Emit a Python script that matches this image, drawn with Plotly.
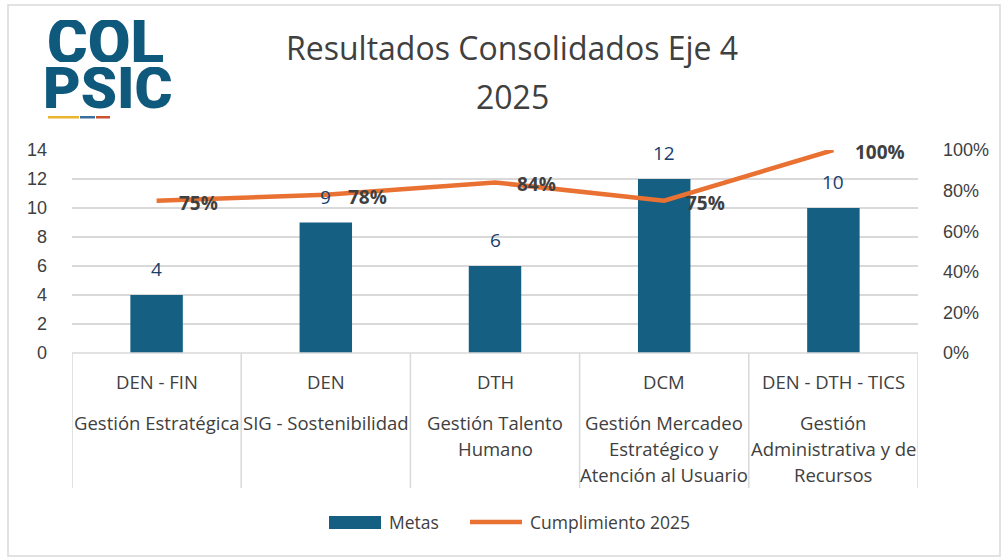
import plotly.graph_objects as go

# ---------------- data ----------------
areas = ["DEN - FIN", "DEN", "DTH", "DCM", "DEN - DTH - TICS"]
procesos = ["Gestión Estratégica", "SIG - Sostenibilidad", "Gestión Talento<br>Humano",
            "Gestión Mercadeo<br>Estratégico y<br>Atención al Usuario",
            "Gestión<br>Administrativa y de<br>Recursos"]
metas = [4, 9, 6, 12, 10]
cumplimiento = [0.75, 0.78, 0.84, 0.75, 1.00]
left_ticks = [0, 2, 4, 6, 8, 10, 12, 14]
right_ticks = [0, 0.2, 0.4, 0.6, 0.8, 1.0]
title_lines = ["Resultados Consolidados Eje 4", "2025"]
series_names = ["Metas", "Cumplimiento 2025"]

# ---------------- layout geometry ----------------
W, H = 1002, 557
L, R, T, B = 72, 918, 150, 353


def px_x(px):
    return (px - L) / (R - L)


def px_y(py):
    return (B - py) / (B - T)


BAR = "#156082"
LINE = "#E97132"
TXT = "#404040"
GRID = "#D9D9D9"
FONT = "Open Sans"
CAT_SIZE = 18.5

cats = list(range(len(areas)))

fig = go.Figure()
fig.add_trace(go.Bar(x=cats, y=metas, name=series_names[0], marker=dict(color=BAR, line=dict(width=0)),
                     width=0.31, yaxis="y", showlegend=False))
fig.add_trace(go.Scatter(x=cats, y=cumplimiento, name=series_names[1], mode="lines",
                         line=dict(color=LINE, width=4.5), yaxis="y2", showlegend=False))

ann = []
# bar value labels
for c, v in zip(cats, metas):
    ann.append(dict(x=c, y=v, xref="x", yref="y", text=str(v), showarrow=False, xanchor="center",
                    yanchor="bottom", yshift=11, font=dict(family=FONT, size=19, color="#17406D")))
# line percentage labels
for c, v in zip(cats, cumplimiento):
    ann.append(dict(x=c, y=v, xref="x", yref="y2", text=f"{round(v*100)}%", showarrow=False,
                    xanchor="left", xshift=20, yshift=-2,
                    font=dict(family=FONT, size=19, color=TXT, weight="bold")))
# category labels (two levels)
for c, a, p in zip(cats, areas, procesos):
    ann.append(dict(x=c, y=px_y(381), xref="x", yref="paper", text=a, showarrow=False,
                    xanchor="center", yanchor="middle",
                    font=dict(family=FONT, size=CAT_SIZE, color=TXT)))
    for k, line in enumerate(p.split("<br>")):
        ann.append(dict(x=c, y=px_y(422 + 26 * k), xref="x", yref="paper", text=line,
                        showarrow=False, xanchor="center", yanchor="middle",
                        font=dict(family=FONT, size=CAT_SIZE, color=TXT)))
# title
for txt, py in zip(title_lines, [48, 96]):
    ann.append(dict(x=px_x(512), y=px_y(py), xref="paper", yref="paper", text=txt,
                    showarrow=False, xanchor="center", yanchor="middle",
                    font=dict(family=FONT, size=32, color=TXT)))
# logo text
LOGO = "#0F5A7C"
for txt, cx, cy, sz in [("COL", 105, 41, 62), ("PSIC", 108, 88, 58)]:
    ann.append(dict(x=px_x(cx), y=px_y(cy), xref="paper", yref="paper", text=txt,
                    showarrow=False, xanchor="center", yanchor="middle", height=42, valign="middle",
                    font=dict(family="Roboto", size=sz, color=LOGO, weight=900)))
# legend text
ann.append(dict(x=px_x(387), y=px_y(522), xref="paper", yref="paper", text=series_names[0],
                showarrow=False, xanchor="left", yanchor="middle",
                font=dict(family=FONT, size=17.5, color=TXT)))
ann.append(dict(x=px_x(528), y=px_y(522), xref="paper", yref="paper", text=series_names[1],
                showarrow=False, xanchor="left", yanchor="middle",
                font=dict(family=FONT, size=17.5, color=TXT)))

shapes = []
# category box lines
shapes.append(dict(type="line", xref="paper", yref="paper", x0=0, x1=1, y0=0, y1=0,
                   line=dict(color=GRID, width=1.5)))
for i in range(len(areas) + 1):
    shapes.append(dict(type="line", xref="x", yref="paper", x0=i - 0.5, x1=i - 0.5,
                       y0=0, y1=px_y(488), line=dict(color=GRID, width=1.5)))
# outer border
shapes.append(dict(type="rect", xref="paper", yref="paper", x0=px_x(8), x1=px_x(1000),
                   y0=px_y(556), y1=px_y(5), line=dict(color=GRID, width=1.5)))
# logo color bars
for x0, x1, col in [(48, 79, "#E8B52C"), (80, 95, "#3C6E9E"), (96, 110, "#C9532E")]:
    shapes.append(dict(type="rect", xref="paper", yref="paper", x0=px_x(x0), x1=px_x(x1),
                       y0=px_y(118.5), y1=px_y(116), line=dict(width=0), fillcolor=col))
# legend swatches
shapes.append(dict(type="rect", xref="paper", yref="paper", x0=px_x(329), x1=px_x(381),
                   y0=px_y(529), y1=px_y(516), line=dict(width=0), fillcolor=BAR))
shapes.append(dict(type="line", xref="paper", yref="paper", x0=px_x(470), x1=px_x(522),
                   y0=px_y(522), y1=px_y(522), line=dict(color=LINE, width=4.5)))

fig.update_layout(
    width=W, height=H,
    margin=dict(l=L, r=W - R, t=T, b=H - B, pad=0),
    paper_bgcolor="white", plot_bgcolor="white",
    xaxis=dict(type="linear", range=[-0.5, len(areas) - 0.5], showticklabels=False,
               showgrid=False, zeroline=False, showline=False, fixedrange=True),
    yaxis=dict(range=[0, 14], tickvals=left_ticks, showgrid=True, gridcolor=GRID, gridwidth=1.5,
               zeroline=False, showline=False, ticks="", ticklabelstandoff=24,
               tickfont=dict(family="Liberation Sans", size=18, color=TXT)),
    yaxis2=dict(range=[0, 1], tickvals=right_ticks, tickformat=".0%", overlaying="y", side="right",
                showgrid=False, zeroline=False, showline=False, ticks="", ticklabelstandoff=24,
                tickfont=dict(family="Liberation Sans", size=18, color=TXT)),
    showlegend=False,
    annotations=ann, shapes=shapes,
)

fig.write_html("out.html", config={"displayModeBar": False})

# remove the browser's default page margin so the figure sits at the window's origin
with open("out.html", "r", encoding="utf-8") as f:
    html = f.read()
html = html.replace("<head>", "<head><style>html,body{margin:0;padding:0;overflow:hidden}</style>", 1)
with open("out.html", "w", encoding="utf-8") as f:
    f.write(html)
